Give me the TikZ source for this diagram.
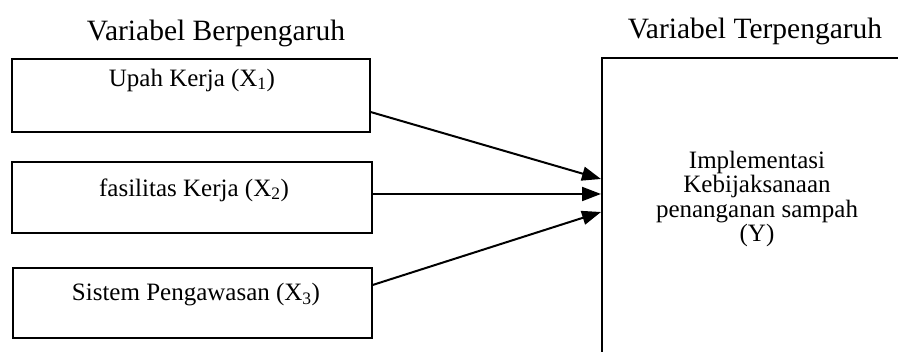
\documentclass[tikz,border=0pt]{standalone}
\usepackage{fontspec}
\setmainfont{Liberation Serif}
\usetikzlibrary{arrows.meta,positioning}
\tikzset{
  vbox/.style={draw,line width=1.6pt,rectangle,anchor=north west,inner sep=0pt},
  vtxt/.style={font=\fontsize{25}{28}\selectfont,inner sep=0pt},
  ttl/.style={font=\fontsize{29.5}{32}\selectfont,inner sep=0pt},
  conn/.style={line width=2pt,-{Triangle[length=19pt,width=14pt]}}
}
\begin{document}
\begin{tikzpicture}[x=1pt,y=1pt]
\useasboundingbox (0,0) rectangle (898,-352);
\clip (0,0) rectangle (898,-352);
\node[ttl] (t1) at (216,-33) {Variabel Berpengaruh};
\node[ttl] (t2) at (755,-31) {Variabel Terpengaruh};
\node[vbox,minimum width=358pt,minimum height=73pt] (b1) at (11,-58) {};
\node[vbox,minimum width=360pt,minimum height=71pt] (b2) at (11,-161) {};
\node[vbox,minimum width=359pt,minimum height=70pt] (b3) at (12,-267) {};
\node[vtxt] (l1) at (192,-80) {Upah Kerja (X\textsubscript{1})};
\node[vtxt] (l2) at (194,-190) {fasilitas Kerja (X\textsubscript{2})};
\node[vtxt] (l3) at (196,-295) {Sistem Pengawasan (X\textsubscript{3})};
\node[vbox,minimum width=400pt,minimum height=400pt] (y) at (601,-57) {};
\node[vtxt,align=center,font=\fontsize{25}{24.5}\selectfont] (ly) at (757,-199) {Implementasi\\Kebijaksanaan\\penanganan sampah\\(Y)};
\coordinate (s1) at (b1.east |- 0,-112);
\coordinate (s2) at (b2.east |- 0,-194);
\coordinate (s3) at (b3.east |- 0,-285);
\coordinate (e1) at (y.west |- 0,-179);
\coordinate (e2) at (y.west |- 0,-194);
\coordinate (e3) at (y.west |- 0,-212);
\draw[conn] (s1) -- (e1);
\draw[conn] (s2) -- (e2);
\draw[conn] (s3) -- (e3);
\end{tikzpicture}
\end{document}
